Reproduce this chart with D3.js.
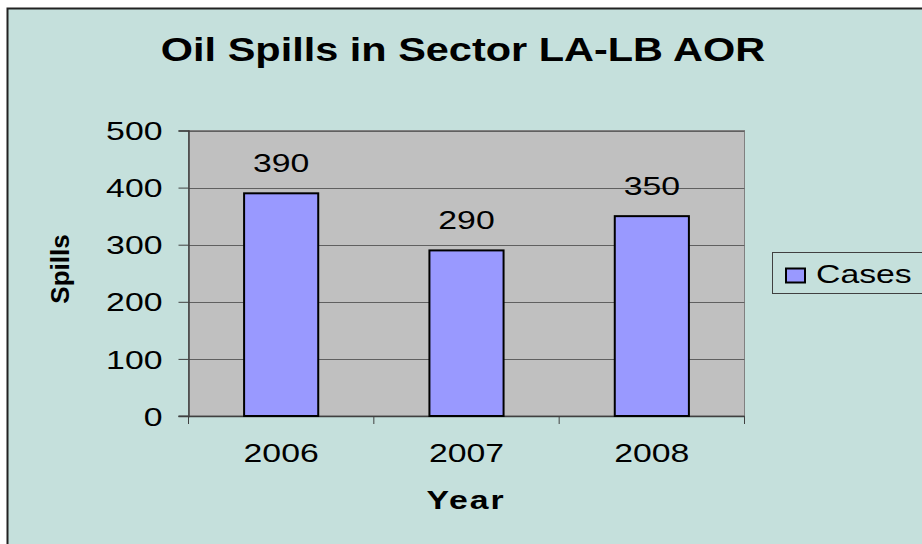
<!DOCTYPE html>
<html><head><meta charset="utf-8">
<script src="https://cdn.jsdelivr.net/npm/d3@7"></script>
<style>html,body{margin:0;padding:0;background:#fff;}svg{display:block;}</style>
</head><body>
<script>
const categories = ["2006", "2007", "2008"];
const cases = [390, 290, 350];
const yTicks = [0, 100, 200, 300, 400, 500];
const seriesName = "Cases";
const title = "Oil Spills in Sector LA-LB AOR";
const xTitle = "Year";
const yTitle = "Spills";

const W = 922, H = 544;
const SX = 1.3; // horizontal stretch of the original picture's text
const svg = d3.select("body").append("svg").attr("width", W).attr("height", H);
const font = "'Liberation Sans', Arial, sans-serif";

function stretchedText(g, x, y, txt, size, anchor, bold, sx) {
  return g.append("text")
    .attr("transform", `translate(${x},${y}) scale(${sx || SX},1)`)
    .attr("text-anchor", anchor).attr("font-family", font)
    .attr("font-size", size).attr("font-weight", bold ? "bold" : "normal")
    .attr("fill", "#000").text(txt);
}

// chart background
svg.append("rect").attr("x", 7.5).attr("y", 8.5).attr("width", W).attr("height", H)
  .attr("fill", "#C5E0DC").attr("stroke", "#222").attr("stroke-width", 2);

const plot = {l: 188.5, t: 130.5, r: 744.5, b: 416};
const x = d3.scaleBand().domain(categories).range([plot.l, plot.r]).paddingInner(0.6).paddingOuter(0.3);
const xCat = d3.scaleBand().domain(categories).range([plot.l, plot.r]);
const y = d3.scaleLinear().domain([0, 500]).range([plot.b, plot.t]);

svg.append("rect").attr("x", plot.l).attr("y", plot.t).attr("width", plot.r - plot.l).attr("height", plot.b - plot.t)
  .attr("fill", "#C0C0C0").attr("stroke", "#808080").attr("stroke-width", 1);

// gridlines
svg.append("g").selectAll("line").data(yTicks.filter(d => d > 0)).join("line")
  .attr("x1", plot.l).attr("x2", plot.r)
  .attr("y1", d => Math.round(y(d)) + 0.5).attr("y2", d => Math.round(y(d)) + 0.5)
  .attr("stroke", "#606060").attr("stroke-width", 1);

// y axis
const yAxis = svg.append("g").attr("transform", `translate(${plot.l},0)`)
  .call(d3.axisLeft(y).tickValues(yTicks).tickSize(10).tickFormat(""));
yAxis.select(".domain").attr("stroke", "#404040").attr("stroke-width", 1.5);
yAxis.selectAll(".tick line").attr("stroke", "#404040");
yAxis.selectAll(".tick").each(function(d) {
  stretchedText(d3.select(this), -26, 0, d, 26, "end", false).attr("dy", "0.35em");
});

// x axis
const xAxis = svg.append("g").attr("transform", `translate(0,${plot.b})`)
  .call(d3.axisBottom(xCat).tickSize(0).tickFormat(""));
xAxis.select(".domain").attr("stroke", "#404040").attr("stroke-width", 1.5);
xAxis.selectAll(".tick").each(function(d) {
  stretchedText(d3.select(this), 0, 46, d, 26, "middle", false);
});
// category boundary ticks
svg.append("g").selectAll("line").data(categories.map(c => xCat(c)).concat([plot.r])).join("line")
  .attr("x1", d => d).attr("x2", d => d).attr("y1", plot.b).attr("y2", plot.b + 8)
  .attr("stroke", "#404040").attr("stroke-width", 1);
svg.append("line").attr("x1", plot.l - 10).attr("x2", plot.l).attr("y1", plot.b).attr("y2", plot.b).attr("stroke", "#404040");

// bars
svg.append("g").selectAll("rect").data(categories).join("rect")
  .attr("x", d => x(d)).attr("width", x.bandwidth())
  .attr("y", (d, i) => y(cases[i])).attr("height", (d, i) => plot.b - y(cases[i]))
  .attr("fill", "#9999FF").attr("stroke", "#000").attr("stroke-width", 2);

// data labels
const lbl = svg.append("g");
categories.forEach((c, i) => {
  stretchedText(lbl, x(c) + x.bandwidth() / 2, y(cases[i]) - 21, cases[i], 26, "middle", false);
});

// title
stretchedText(svg, 463, 61, title, 34, "middle", true, 1.22);

// axis titles
stretchedText(svg, 466, 509, xTitle, 26, "middle", true).attr("letter-spacing", 1.5);
svg.append("text").attr("transform", "translate(69,269) rotate(-90)").attr("text-anchor", "middle")
  .attr("font-family", font).attr("font-weight", "bold").attr("font-size", 26).text(yTitle);

// legend
const lg = svg.append("g");
lg.append("rect").attr("x", 772.5).attr("y", 252.5).attr("width", 160).attr("height", 41)
  .attr("fill", "#C5E0DC").attr("stroke", "#404040").attr("stroke-width", 1);
lg.append("rect").attr("x", 786).attr("y", 268.5).attr("width", 19).attr("height", 14)
  .attr("fill", "#9999FF").attr("stroke", "#000").attr("stroke-width", 2);
stretchedText(lg, 816, 283, seriesName, 26, "start", false);
</script>
</body></html>
